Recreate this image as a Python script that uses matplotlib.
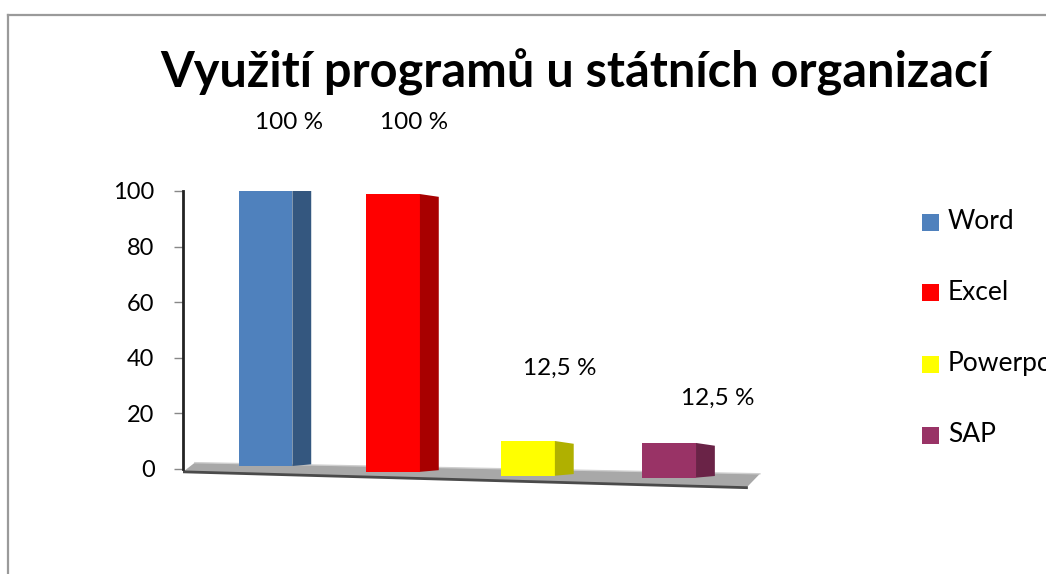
import matplotlib
matplotlib.use("Agg")
import matplotlib.pyplot as plt
from matplotlib.patches import Polygon, Rectangle
from matplotlib.lines import Line2D

# data
programy = ["Word", "Excel", "Powerpoint", "SAP"]
hodnoty = [100, 100, 12.5, 12.5]
popisky = [f"{v:g}".replace(".", ",") + " %" for v in hodnoty]

barvy = ["#4F81BD", "#FF0000", "#FFFF00", "#993366"]
barvy_bok = ["#34577F", "#A80000", "#B0B000", "#6A2347"]

plt.rcParams["font.family"] = ["Lato", "DejaVu Sans"]

W, H = 1046, 574
fig = plt.figure(figsize=(W / 100, H / 100), dpi=100)

def fx(px):
    return px / W

def fy(py):
    return 1 - py / H

# ram grafu
fig.add_artist(Line2D([fx(8), fx(8)], [fy(15), -0.1], color="#9a9a9a", lw=1.6))
fig.add_artist(Line2D([fx(8), 1.1], [fy(15), fy(15)], color="#9a9a9a", lw=1.6))

ax = fig.add_axes([fx(183), fy(491), 578 / W, (491 - 191) / H])
ax.set_xlim(-0.588, 3.708)
ax.set_ylim(-8, 100)

# podlaha (perspektiva)
podlaha = Polygon([(-0.50, 2.2), (3.70, -1.8), (3.60, -6.8), (-0.588, -1.1)],
                  closed=True, facecolor="#a8a8a8", edgecolor="none", zorder=1)
ax.add_patch(podlaha)
ax.plot([-0.588, 3.60], [-1.1, -6.8], color="#4a4a4a", lw=2.0, zorder=1.5)
ax.plot([-0.50, 3.70], [2.2, -1.8], color="#cfcfcf", lw=1.0, zorder=1.5)

sirka = 0.40
hloubka = 0.14
posun = [0.025, -0.027, -0.024, 0.025]
spodek = [1.0, -1.1, -2.5, -3.2]
posun_x = [0.20, 0.13, 0.21, 0.39]
posun_y = [24.8, 24.8, 23.8, 13.0]

for i, (v, c, cb) in enumerate(zip(hodnoty, barvy, barvy_bok)):
    b = spodek[i]
    x = i + posun[i]
    ax.bar(x, v, width=sirka, bottom=b, color=c, edgecolor="none", zorder=3)
    xr = x + sirka / 2
    bok = Polygon([(xr, b), (xr + hloubka, b + 0.6), (xr + hloubka, b + v - 1.0), (xr, b + v)],
                  closed=True, facecolor=cb, edgecolor="none", zorder=3)
    ax.add_patch(bok)
    ax.text(i + posun_x[i], v + posun_y[i], popisky[i], ha="center", va="center",
            fontsize=17.5, color="black")

for s in ["top", "right", "bottom"]:
    ax.spines[s].set_visible(False)
ax.spines["left"].set_bounds(0, 100)
ax.spines["left"].set_linewidth(2.0)
ax.spines["left"].set_color("#222222")
ax.spines["left"].set_zorder(4)
ax.set_yticks([0, 20, 40, 60, 80, 100])
ax.set_xticks([])
ax.tick_params(axis="y", length=6.5, width=1.0, color="#888888", pad=14, labelsize=17)

# titulek
fig.text(fx(575), fy(72), "Využití programů u státních organizací", ha="center", va="center",
         fontsize=35, fontweight="bold", color="black")

# legenda
legenda_y = [222, 292, 364, 435]
for lab, c, py in zip(programy, barvy, legenda_y):
    fig.add_artist(Rectangle((fx(922), fy(py + 8.5)), 17 / W, 17 / H,
                             facecolor=c, edgecolor="none", transform=fig.transFigure))
    fig.text(fx(948), fy(py), lab, ha="left", va="center", fontsize=19, color="black")

fig.savefig("out.png", dpi=100)
